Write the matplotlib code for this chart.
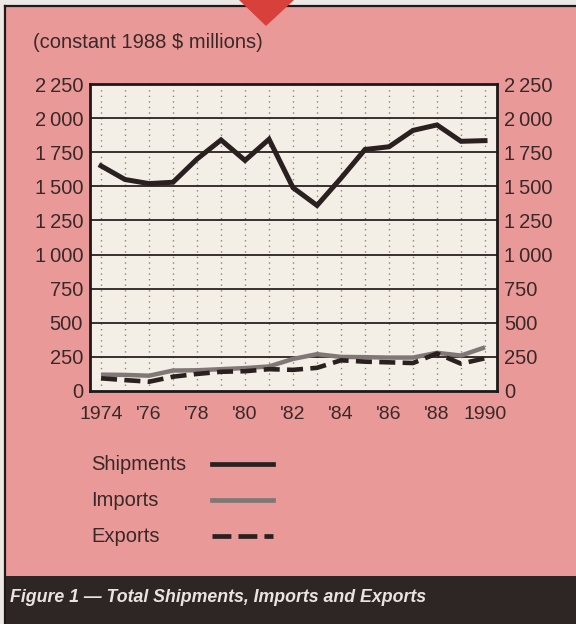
import matplotlib
matplotlib.use("Agg")
import matplotlib.pyplot as plt
from matplotlib.lines import Line2D
from matplotlib.patches import Rectangle, Polygon

years = list(range(1974, 1991))
shipments = [1650, 1550, 1520, 1530, 1700, 1840, 1690, 1845, 1490, 1360,
             1560, 1770, 1790, 1910, 1950, 1830, 1835]
imports = [120, 118, 112, 150, 152, 160, 168, 180, 235, 270,
           250, 248, 245, 245, 280, 260, 320]
exports = [93, 80, 68, 105, 125, 141, 145, 160, 155, 170,
           225, 215, 210, 205, 275, 200, 240]

y_ticks = [0, 250, 500, 750, 1000, 1250, 1500, 1750, 2000, 2250]
y_labels = ["0", "250", "500", "750", "1\u2009000", "1\u2009250", "1\u2009500",
            "1\u2009750", "2\u2009000", "2\u2009250"]
x_ticks = [1974, 1976, 1978, 1980, 1982, 1984, 1986, 1988, 1990]
x_labels = ["1974", "'76", "'78", "'80", "'82", "'84", "'86", "'88", "1990"]

pink = "#e99a98"
dark = "#2e2525"
ink = "#3a2828"
plt.rcParams["font.family"] = ["Liberation Sans", "DejaVu Sans"]

W, H = 576, 624
fig = plt.figure(figsize=(W / 100, H / 100), dpi=100, facecolor="#ece8e4")


def fx(px):
    return px / W


def fy(py):
    return 1 - py / H


# pink panel, border and caption bar
fig.add_artist(Rectangle((fx(5), fy(576)), fx(571), 570 / H, transform=fig.transFigure,
                         facecolor=pink, edgecolor="none", zorder=0))
fig.add_artist(Line2D([fx(5), fx(5)], [fy(6), 0], transform=fig.transFigure,
                      color="#1e1818", lw=1.6, zorder=1))
fig.add_artist(Line2D([fx(5), 1], [fy(6), fy(6)], transform=fig.transFigure,
                      color="#1e1818", lw=1.6, zorder=1))
fig.add_artist(Rectangle((fx(6), 0), 1, 48 / H, transform=fig.transFigure,
                         facecolor=dark, edgecolor="none", zorder=1))
fig.add_artist(Polygon([(fx(239), 1), (fx(294), 1), (fx(266), fy(26))],
                       transform=fig.transFigure, facecolor="#d8413b",
                       edgecolor="none", zorder=2))

ax = fig.add_axes([fx(90), fy(391), fx(407), 307 / H])
ax.set_facecolor("#f4efe6")

for yr in years:
    ax.axvline(yr, color="#8c8480", lw=1.0, ls=(0, (1, 3)), zorder=1)
for t in y_ticks[1:-1]:
    ax.axhline(t, color="#2a2020", lw=1.3, zorder=2)

ax.plot(years, imports, color="#807876", lw=3.2, solid_capstyle="butt", zorder=3)
ax.plot(years, exports, color="#2a2020", lw=3.3, ls=(0, (3.5, 1.6)), zorder=4)
ax.plot(years, shipments, color="#2a2020", lw=3.6, solid_joinstyle="miter", zorder=5)

ax.set_xlim(1973.54, 1990.5)
ax.set_ylim(0, 2250)
ax.set_xticks(x_ticks)
ax.set_xticklabels(x_labels)
ax.set_yticks(y_ticks)
ax.set_yticklabels(y_labels)
ax.tick_params(axis="x", length=0, pad=11, labelsize=14, labelcolor=ink)
ax.tick_params(axis="y", length=0, pad=5, labelsize=14.5, labelcolor=ink,
               labelright=True)
for sp in ax.spines.values():
    sp.set_color("#1e1818")
    sp.set_linewidth(2)

fig.text(fx(33), fy(48), "(constant 1988 $ millions)", fontsize=14.5, color=ink,
         va="baseline", ha="left")

# legend
legend_rows = [("Shipments", 464, dict(color="#2a2020", ls="-")),
               ("Imports", 500, dict(color="#807876", ls="-")),
               ("Exports", 536, dict(color="#2a2020", ls=(0, (4.0, 1.5))))]
for name, py, style in legend_rows:
    fig.text(fx(91), fy(py), name, fontsize=14.5, color=ink, va="center", ha="left")
    fig.add_artist(Line2D([fx(212), fx(273)], [fy(py), fy(py)], transform=fig.transFigure,
                          lw=3.4, **style))

fig.text(fx(10), fy(602), "Figure 1 \u2014 Total Shipments, Imports and Exports",
         fontsize=12.75, color="#ebe2e2", fontweight="bold", fontstyle="italic",
         va="baseline", ha="left")

fig.savefig("out.png", dpi=100, facecolor=fig.get_facecolor())
